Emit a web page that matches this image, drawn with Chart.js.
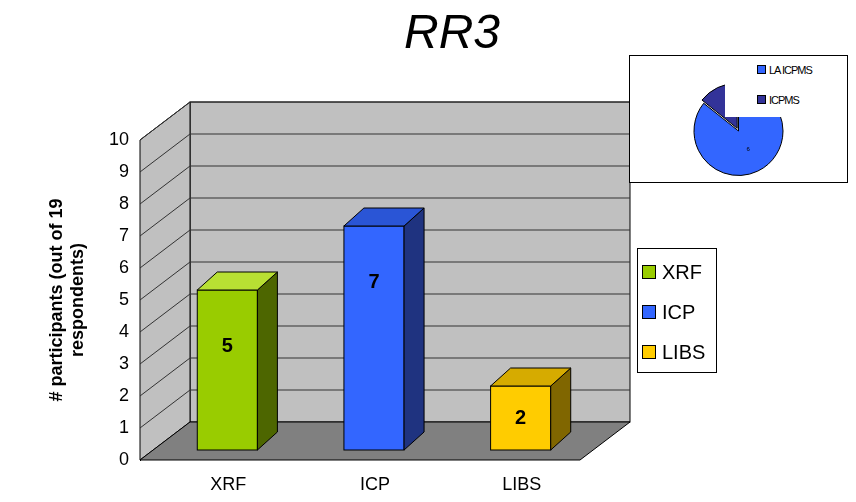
<!DOCTYPE html><html><head><script src="https://cdn.jsdelivr.net/npm/chart.js@4/dist/chart.umd.min.js"></script>
<style>body{margin:0;background:#fff;font-family:Arial,"Liberation Sans",sans-serif}#w{position:relative;width:856px;height:502px}
#pw{position:absolute;left:629px;top:55px;width:217px;height:126px;border:1px solid #000;background:#fff}
#pl{position:absolute;left:725px;top:57px;width:118px;height:60px;background:#fff;font-size:11px;letter-spacing:-1px}
#pl div{position:absolute;left:32px}#pl span{display:inline-block;width:7px;height:7px;border:1px solid #000;margin-right:3px}
#lg{position:absolute;left:637px;top:248px;width:78px;height:123px;border:1px solid #000;font-size:20px}
#lg div{position:absolute;left:4px}#lg span{display:inline-block;width:12px;height:12px;border:1px solid #000;margin-right:6px}
</style></head><body><div id="w"><canvas id="c" width="856" height="502"></canvas>
<div id="pw"><canvas id="p" width="217" height="126"></canvas></div>
<div id="pl"><div style="top:7px"><span style="background:#3366ff"></span>LA ICPMS</div><div style="top:37px"><span style="background:#333399"></span>ICPMS</div></div>
<div id="lg"><div style="top:12px"><span style="background:#99cc00"></span>XRF</div><div style="top:52px"><span style="background:#3366ff"></span>ICP</div><div style="top:92px"><span style="background:#ffcc00"></span>LIBS</div></div>
</div>
<script>
const categories=["XRF","ICP","LIBS"];
const values=[5,7,2];
const colors=["#99cc00","#3366ff","#ffcc00"];
const sideColors=["#4d6600","#1f3380","#806600"];
const topColors=["#b8e033","#2a55d6","#d6ab00"];
const pieLabels=["LA ICPMS","ICPMS"];
const pieValues=[6,1];
const DX=50,DY=-38,bx=20,by=-18,shiftY=-10,shiftX=14;
const p3d={id:'p3d',beforeDatasetsDraw(ch){const c=ch.ctx,a=ch.chartArea,ys=ch.scales.y;
 c.save();c.strokeStyle='#000';c.lineWidth=1;
 c.fillStyle='#c0c0c0';c.fillRect(a.left+DX,a.top+DY,a.right-a.left,a.bottom-a.top);c.strokeRect(a.left+DX,a.top+DY,a.right-a.left,a.bottom-a.top);
 c.beginPath();c.moveTo(a.left,a.top);c.lineTo(a.left+DX,a.top+DY);c.lineTo(a.left+DX,a.bottom+DY);c.lineTo(a.left,a.bottom);c.closePath();c.fill();c.stroke();
 c.fillStyle='#808080';c.beginPath();c.moveTo(a.left,a.bottom);c.lineTo(a.right,a.bottom);c.lineTo(a.right+DX,a.bottom+DY);c.lineTo(a.left+DX,a.bottom+DY);c.closePath();c.fill();c.stroke();
 c.strokeStyle='#333';for(let v=1;v<=10;v++){const y=ys.getPixelForValue(v);c.beginPath();c.moveTo(a.left,y);c.lineTo(a.left+DX,y+DY);c.lineTo(a.right+DX,y+DY);c.stroke();}
 c.restore();},
 afterDatasetsDraw(ch){const c=ch.ctx,m=ch.getDatasetMeta(0);c.save();c.strokeStyle='#000';
 m.data.forEach((b,i)=>{const w=b.width,l=b.x-w/2+shiftX,r=b.x+w/2+shiftX,t=b.y+shiftY,bt=b.base+shiftY;
 c.fillStyle=colors[i];c.fillRect(l,t,w,bt-t);c.strokeRect(l,t,w,bt-t);
 c.fillStyle=sideColors[i];c.beginPath();c.moveTo(r,t);c.lineTo(r+bx,t+by);c.lineTo(r+bx,bt+by);c.lineTo(r,bt);c.closePath();c.fill();c.stroke();
 c.fillStyle=topColors[i];c.beginPath();c.moveTo(l,t);c.lineTo(l+bx,t+by);c.lineTo(r+bx,t+by);c.lineTo(r,t);c.closePath();c.fill();c.stroke();
 c.fillStyle='#000';c.font='bold 20px Arial';c.textAlign='center';c.textBaseline='middle';c.fillText(values[i],b.x+shiftX,t+Math.min((bt-t)/2,56));});
 c.font='italic 48px Arial';c.textAlign='center';c.textBaseline='alphabetic';c.fillText('RR3',452,48);c.restore();}};
new Chart(document.getElementById('c'),{type:'bar',data:{labels:categories,datasets:[{data:values,backgroundColor:'rgba(0,0,0,0)',barPercentage:0.41,categoryPercentage:1}]},
options:{responsive:false,animation:false,layout:{padding:{top:140,right:276,bottom:0,left:42}},plugins:{legend:{display:false},tooltip:{enabled:false}},
scales:{x:{afterFit(s){s.height=42;},grid:{display:false},border:{display:false},ticks:{color:'#000',font:{size:18,family:'Arial'},padding:6,labelOffset:15}},
y:{min:0,max:10,afterFit(s){s.width=98;},grid:{display:false},border:{color:'#000'},ticks:{stepSize:1,color:'#000',font:{size:18,family:'Arial'}},
title:{display:true,text:['# participants (out of 19','respondents)'],color:'#000',font:{size:18,weight:'bold',family:'Arial'}}}}},plugins:[p3d]});
new Chart(document.getElementById('p'),{type:'pie',data:{labels:pieLabels,datasets:[{data:pieValues,backgroundColor:['#3366ff','#333399'],borderColor:'#000',borderWidth:1,offset:[0,12]}]},
options:{responsive:false,animation:false,layout:{padding:{left:50,right:50,top:24,bottom:0}},plugins:{legend:{display:false},tooltip:{enabled:false}}},
plugins:[{id:'pv',afterDatasetsDraw(ch){const c=ch.ctx;c.save();c.font='6px Arial';c.fillStyle='#000';c.textAlign='center';ch.getDatasetMeta(0).data.forEach((a,i)=>{const p=a.tooltipPosition();c.fillText(pieValues[i],p.x,p.y);});c.restore();}}]});
</script></body></html>
